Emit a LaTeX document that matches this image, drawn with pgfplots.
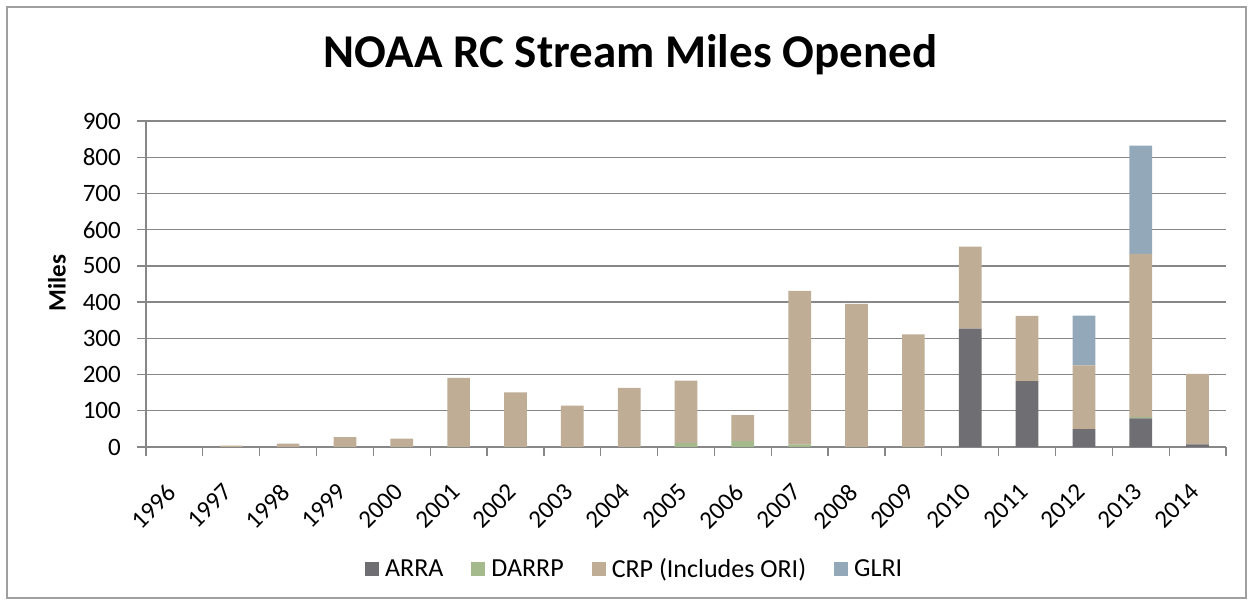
\documentclass[border=0pt]{standalone}
\usepackage{pgfplots}
\pgfplotsset{compat=1.18}
\usepackage{fontspec}
\setmainfont{Carlito}
\definecolor{arra}{HTML}{6F6E73}
\definecolor{darrp}{HTML}{A5BA8C}
\definecolor{crp}{HTML}{BFAD95}
\definecolor{glri}{HTML}{93A9BA}
\definecolor{gridc}{HTML}{878787}
\begin{document}
\begin{tikzpicture}
\path (0pt,0pt) rectangle (1253pt,605pt);
\draw[color=gridc!80, line width=1.2pt] (7pt,7pt) rectangle (1246pt,598pt);
\begin{axis}[
  at={(146pt,158pt)}, anchor=south west,
  scale only axis, width=1080pt, height=326pt,
  ybar stacked, bar width=22.7pt,
  xmin=-0.5, xmax=18.5, ymin=0, ymax=900,
  ytick={0,100,...,900},
  xtick={0,...,18},
  xticklabels={1996,1997,1998,1999,2000,2001,2002,2003,2004,2005,2006,2007,2008,2009,2010,2011,2012,2013,2014},
  minor xtick={-0.5,0.5,...,18.5},
  major x tick style={draw=none},
  axis lines=left, axis line style={-, color=gridc, line width=1.3pt},
  tick align=outside, major tick length=9pt, minor tick length=9pt,
  tick style={color=gridc, line width=1.3pt},
  ymajorgrids, grid style={color=gridc, line width=1.3pt},
  ticklabel style={font=\fontsize{25}{28}\selectfont, inner sep=0pt},
  x tick label style={xshift=-9pt, yshift=-26pt, rotate=45, anchor=north east},
  yticklabel style={xshift=-16pt},
  /pgf/number format/assume math mode=true,
  ylabel={\textbf{Miles}},
  ylabel style={at={(axis description cs:-0.0824,0.503)}, anchor=center, font=\fontsize{25}{28}\selectfont},
  title={\textbf{NOAA RC Stream Miles Opened}},
  title style={at={(axis description cs:0.4486,1.147)}, anchor=base, font=\fontsize{47}{52}\selectfont},
  legend columns=4,
  legend style={at={(0.452,-0.374)}, anchor=center, draw=none, font=\fontsize{26}{29}\selectfont,
    nodes={inner sep=1pt},
    /tikz/every odd column/.append style={column sep=5pt},
    /tikz/every even column/.append style={column sep=27pt}},
  legend image code/.code={\fill[#1] (0pt,-7pt) rectangle (14pt,7pt);},
]
\addplot[fill=arra, draw=none] coordinates {(0,0) (1,0) (2,0) (3,0) (4,0) (5,0) (6,0) (7,0) (8,0) (9,0) (10,0) (11,0) (12,0) (13,0) (14,327) (15,182) (16,49) (17,79) (18,7)};
\addlegendentry{ARRA}
\addplot[fill=darrp, draw=none] coordinates {(0,0) (1,0) (2,0) (3,0) (4,0) (5,0) (6,0) (7,0) (8,0) (9,11) (10,16) (11,7) (12,0) (13,0) (14,0) (15,0) (16,0) (17,4) (18,0)};
\addlegendentry{DARRP}
\addplot[fill=crp, draw=none] coordinates {(0,0) (1,4) (2,9) (3,27) (4,23) (5,191) (6,151) (7,114) (8,163) (9,172) (10,72) (11,424) (12,395) (13,311) (14,226) (15,180) (16,176) (17,450) (18,195)};
\addlegendentry{CRP (Includes ORI)}
\addplot[fill=glri, draw=none] coordinates {(0,0) (1,0) (2,0) (3,0) (4,0) (5,0) (6,0) (7,0) (8,0) (9,0) (10,0) (11,0) (12,0) (13,0) (14,0) (15,0) (16,138) (17,299) (18,0)};
\addlegendentry{GLRI}
\end{axis}
\end{tikzpicture}
\end{document}
